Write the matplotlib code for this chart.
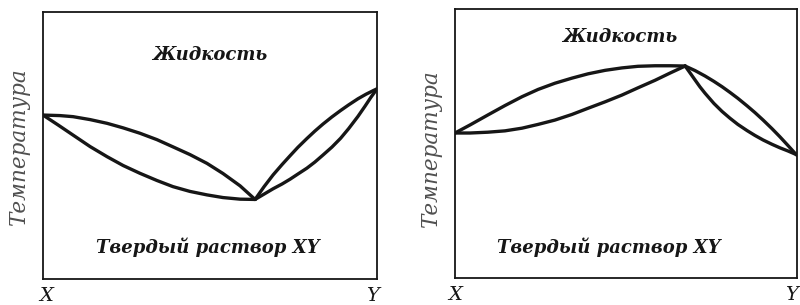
import matplotlib
matplotlib.use('Agg')
import matplotlib.pyplot as plt

# composition in % of Y, temperature in arbitrary units (0..100 of the box)

# Left diagram: liquidus and solidus with a minimum
left_liq_a_x = [0.0, 5.1, 9.0, 14.1, 19.2, 24.0, 29.0, 34.1, 38.9, 44.0, 49.1, 53.9, 59.0, 63.5]
left_liq_a_t = [61.4, 61.2, 60.8, 59.7, 58.3, 56.6, 54.6, 52.2, 49.5, 46.6, 43.3, 39.5, 34.9, 29.8]
left_sol_a_x = [0.0, 4.5, 9.0, 14.1, 19.2, 24.0, 29.0, 34.1, 38.9, 44.0, 49.1, 53.9, 59.0, 63.5]
left_sol_a_t = [61.4, 57.7, 53.9, 49.6, 45.8, 42.5, 39.6, 36.9, 34.6, 32.8, 31.5, 30.5, 29.9, 29.8]
left_liq_b_x = [63.5, 66.2, 68.9, 71.6, 74.0, 76.3, 79.0, 81.4, 83.8, 86.5, 89.1, 91.5, 94.3, 96.7, 99.1, 100.0]
left_liq_b_t = [29.8, 34.6, 39.0, 42.9, 46.2, 49.3, 52.6, 55.4, 58.0, 60.7, 63.1, 65.2, 67.5, 69.2, 70.7, 71.2]
left_sol_b_x = [63.5, 66.2, 68.9, 71.6, 74.0, 76.3, 79.0, 81.4, 83.8, 86.5, 89.1, 91.5, 94.3, 96.4, 98.2, 100.0]
left_sol_b_t = [29.8, 31.8, 33.8, 35.6, 37.4, 39.3, 41.5, 43.8, 46.4, 49.4, 52.7, 56.3, 60.9, 64.7, 68.1, 71.2]

# Right diagram: liquidus and solidus with a maximum
right_liq_a_x = [0.0, 4.4, 9.6, 14.6, 19.6, 24.3, 29.2, 34.2, 38.9, 43.9, 48.8, 53.5, 58.5, 62.9, 67.3]
right_liq_a_t = [53.9, 56.9, 60.6, 64.1, 67.4, 70.1, 72.4, 74.3, 75.9, 77.2, 78.1, 78.7, 78.9, 78.9, 78.8]
right_sol_a_x = [0.0, 4.4, 9.6, 14.6, 19.6, 24.3, 29.2, 34.2, 38.9, 43.9, 48.8, 53.5, 58.5, 62.9, 67.3]
right_sol_a_t = [53.9, 53.9, 54.2, 54.7, 55.7, 57.1, 58.7, 60.8, 63.1, 65.5, 68.0, 70.7, 73.5, 76.2, 78.8]
right_liq_b_x = [67.3, 70.2, 73.1, 75.7, 78.1, 80.4, 82.7, 85.4, 87.7, 90.1, 92.7, 95.0, 97.4, 99.4, 100.0]
right_liq_b_t = [78.8, 77.1, 75.1, 73.1, 71.1, 69.0, 66.8, 64.0, 61.5, 58.7, 55.5, 52.5, 49.2, 46.4, 45.7]
right_sol_b_x = [67.3, 68.7, 70.2, 71.6, 73.1, 75.7, 78.1, 80.4, 82.7, 85.4, 87.7, 90.1, 92.7, 95.0, 97.4, 99.4, 100.0]
right_sol_b_t = [78.8, 76.3, 73.6, 71.1, 68.7, 64.9, 61.9, 59.4, 57.1, 54.8, 53.0, 51.3, 49.7, 48.4, 47.2, 46.1, 45.7]

liquid_label = 'Жидкость'
solid_label = 'Твердый раствор XY'
ylabel = 'Температура'
end_labels = ['X', 'Y']

ink = '#161616'
serif = ['DejaVu Serif', 'Liberation Serif']

fig = plt.figure(figsize=(8, 3.05), dpi=100)
ax1 = fig.add_axes([43 / 800, 26 / 305, 334 / 800, 267 / 305])
ax2 = fig.add_axes([455 / 800, 27 / 305, 342 / 800, 269 / 305])

panels = [
    (ax1, [(left_liq_a_x, left_liq_a_t), (left_sol_a_x, left_sol_a_t),
           (left_liq_b_x, left_liq_b_t), (left_sol_b_x, left_sol_b_t)],
     (0.50, 0.84), (0.494, 0.12), (-0.073, 0.498), [0.01, 0.985]),
    (ax2, [(right_liq_a_x, right_liq_a_t), (right_sol_a_x, right_sol_a_t),
           (right_liq_b_x, right_liq_b_t), (right_sol_b_x, right_sol_b_t)],
     (0.482, 0.896), (0.45, 0.115), (-0.070, 0.483), [0.0, 0.985]),
]

for ax, curves, liq_pos, sol_pos, ylab_pos, end_pos in panels:
    for xs, ts in curves:
        ax.plot(xs, ts, color=ink, lw=2.4, solid_capstyle='round', solid_joinstyle='round')
    ax.set_xlim(0, 100)
    ax.set_ylim(0, 100)
    ax.set_xticks([])
    ax.set_yticks([])
    for s in ax.spines.values():
        s.set_linewidth(1.3)
        s.set_color(ink)
    ax.text(*liq_pos, liquid_label, ha='center', va='center', fontsize=13,
            family=serif, style='italic', weight='bold', color=ink, transform=ax.transAxes)
    ax.text(*sol_pos, solid_label, ha='center', va='center', fontsize=13,
            family=serif, style='italic', weight='bold', color=ink, transform=ax.transAxes)
    ax.text(*ylab_pos, ylabel, ha='center', va='center', rotation=90, fontsize=15.5,
            family=serif, style='italic', color='#505050', transform=ax.transAxes)
    for xf, lab in zip(end_pos, end_labels):
        ax.annotate(lab, xy=(xf, 0), xycoords='axes fraction', xytext=(0, -5.5),
                    textcoords='offset points', ha='center', va='top', fontsize=14,
                    family=serif, style='italic', color=ink, annotation_clip=False)

fig.savefig('out.png', dpi=100, facecolor='white')
